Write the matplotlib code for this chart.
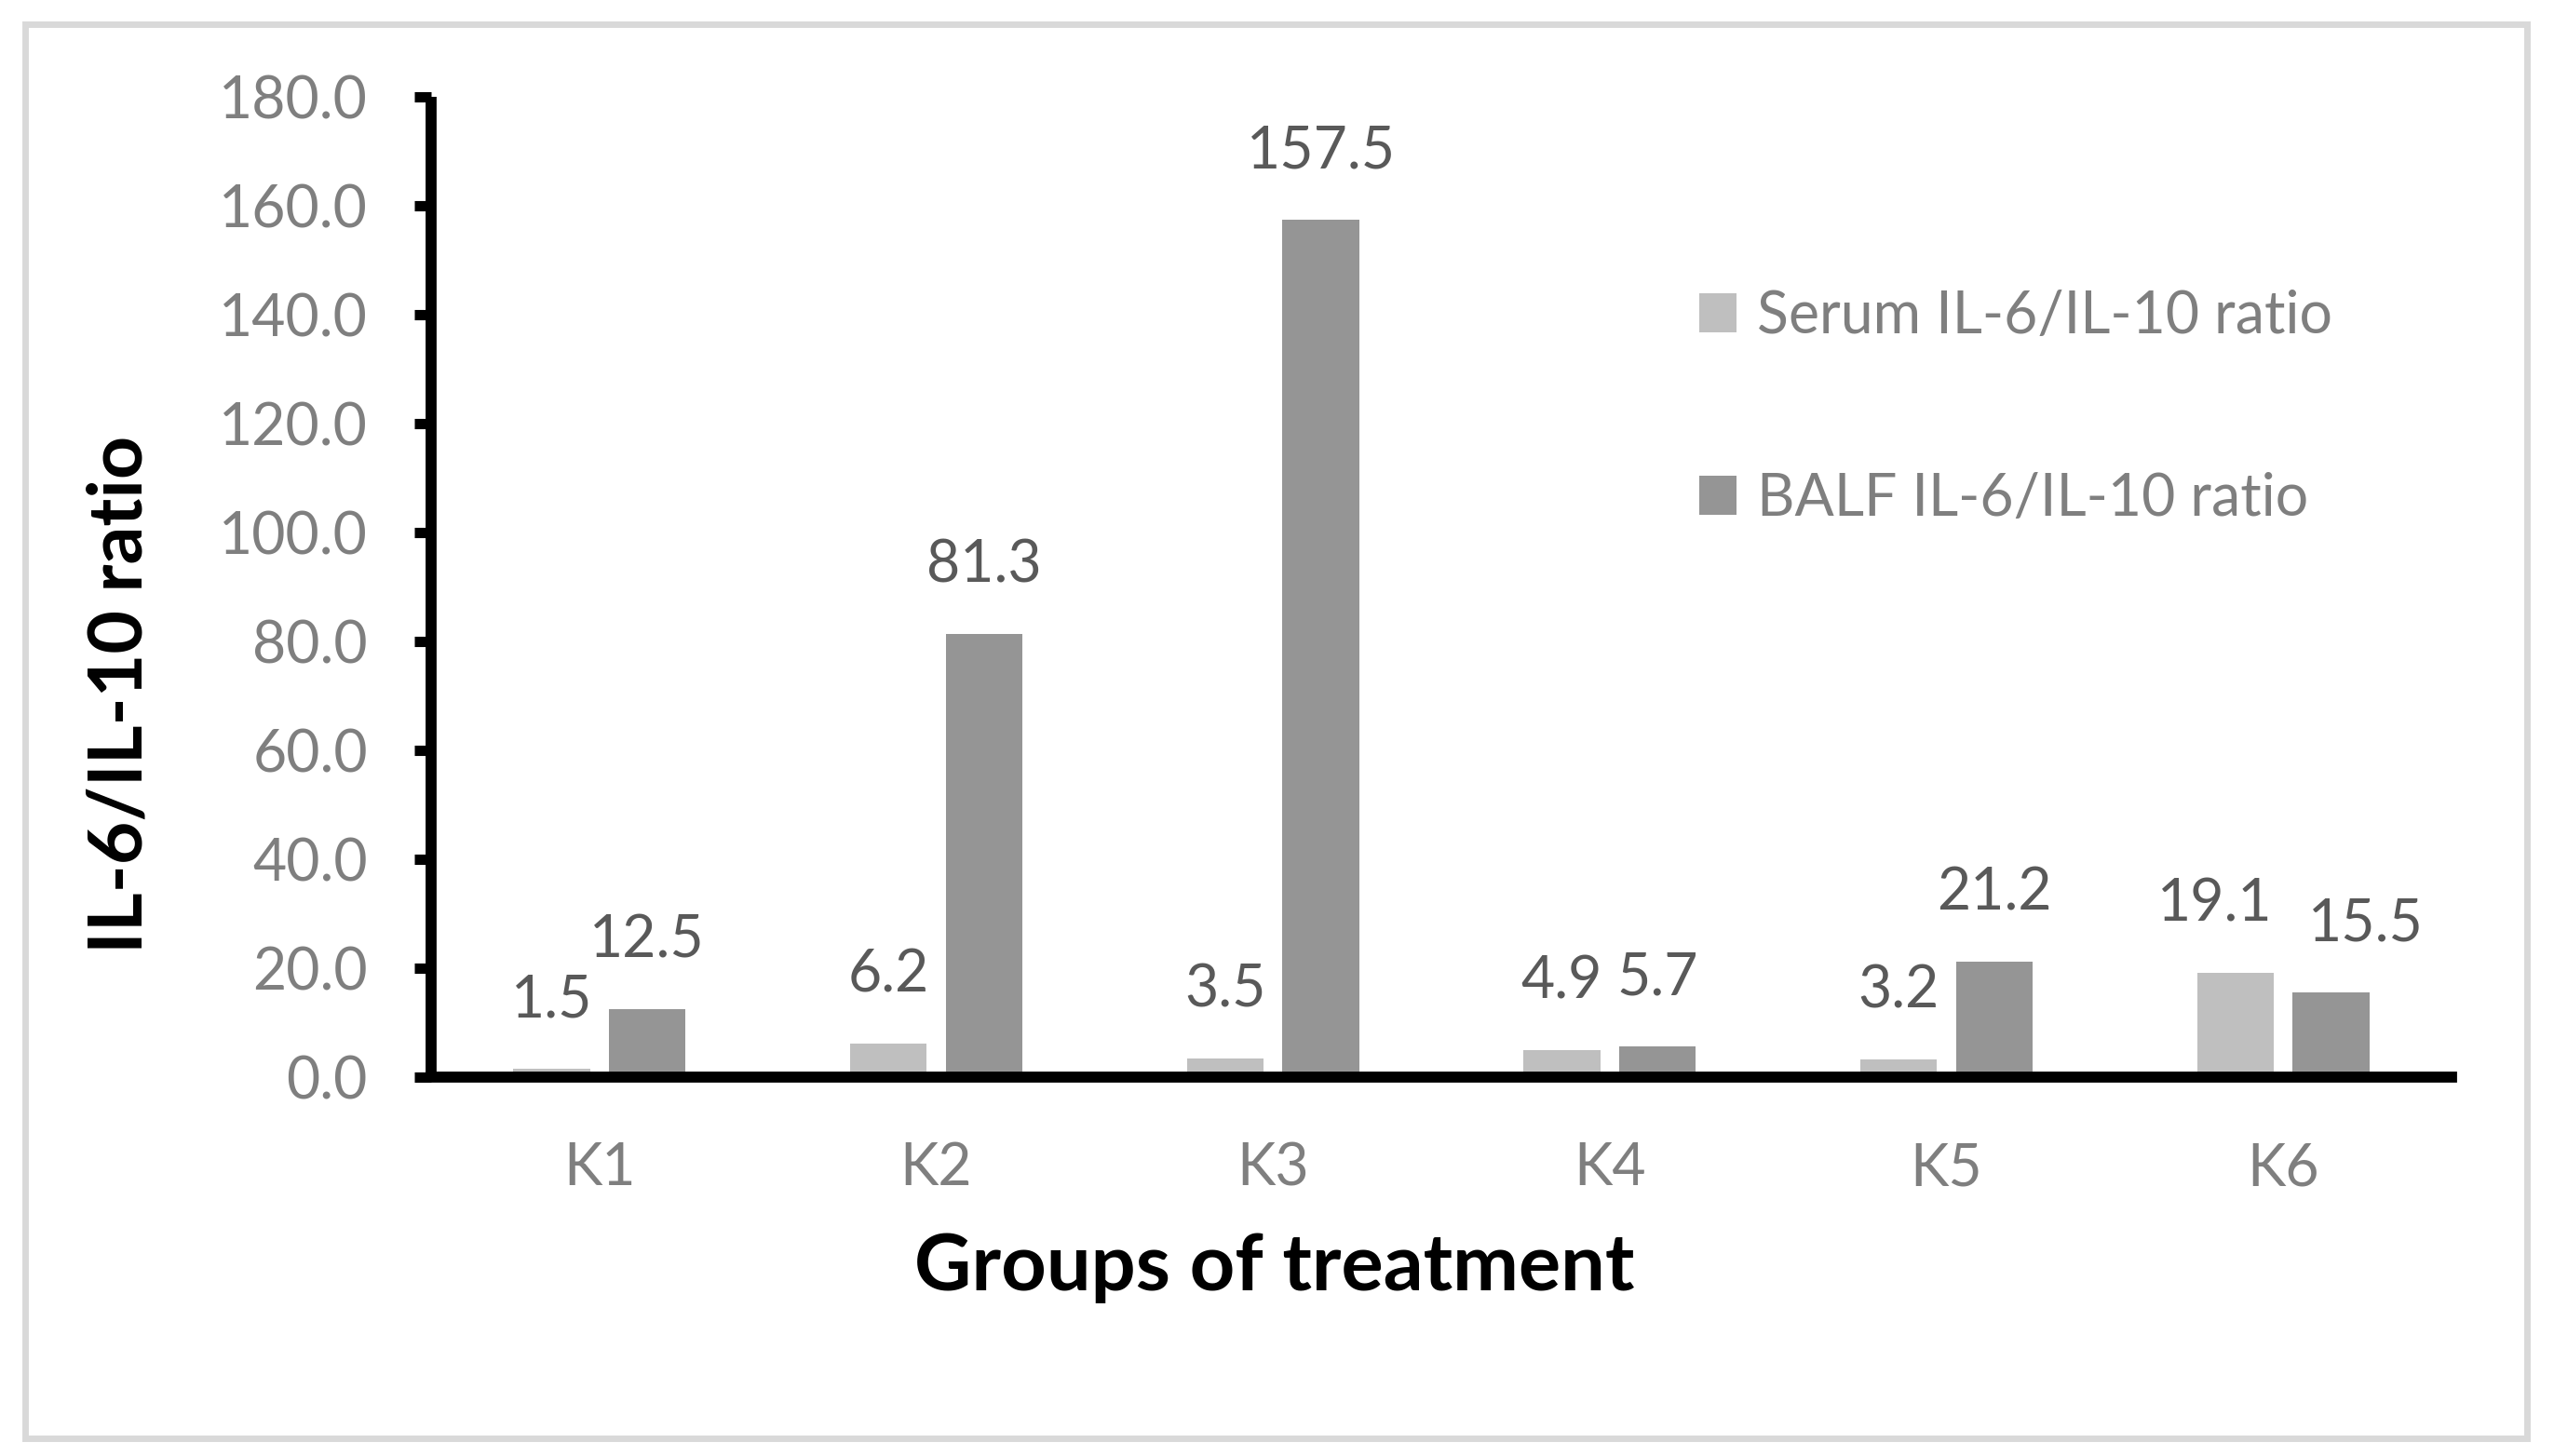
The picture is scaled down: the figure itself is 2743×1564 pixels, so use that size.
import matplotlib
matplotlib.use("Agg")
import matplotlib.pyplot as plt
import numpy as np
from matplotlib.patches import Rectangle

plt.rcParams['font.family'] = ['Lato', 'DejaVu Sans']

groups = ['K1', 'K2', 'K3', 'K4', 'K5', 'K6']
serum = [1.5, 6.2, 3.5, 4.9, 3.2, 19.1]
balf = [12.5, 81.3, 157.5, 5.7, 21.2, 15.5]
series_names = ['Serum IL-6/IL-10 ratio', 'BALF IL-6/IL-10 ratio']
yticks = np.arange(0, 181, 20)

fig = plt.figure(figsize=(27.43, 15.64), dpi=100)
ax = fig.add_axes([0.1688, 0.2602, 0.9599 - 0.1688, 0.9335 - 0.2602])

x = np.arange(len(groups))
w = 0.227
off = 0.142
b1 = ax.bar(x - off, serum, w, color='#bfbfbf', label=series_names[0])
b2 = ax.bar(x + off, balf, w, color='#959595', label=series_names[1])

# labels in K6 were pushed apart in the original so they don't collide
nudge = {(0, 5): -16, (1, 5): 27}
for si, (bars, vals) in enumerate([(b1, serum), (b2, balf)]):
    for gi, (rect, v) in enumerate(zip(bars, vals)):
        ax.annotate('%.1f' % v, (rect.get_x() + rect.get_width() / 2, v),
                    xytext=(nudge.get((si, gi), 0), 40), textcoords='offset points',
                    ha='center', va='baseline', fontsize=45, color='#595959')

ax.set_xlim(-0.5, 5.5)
ax.set_ylim(0, 180)
ax.set_yticks(yticks)
ax.set_yticklabels(['%.1f' % t for t in yticks])
ax.set_xticks(x)
ax.set_xticklabels(groups)

for s in ['top', 'right']:
    ax.spines[s].set_visible(False)
ax.spines['left'].set_linewidth(8.5)
ax.spines['bottom'].set_linewidth(8.5)
ax.spines['left'].set_capstyle('butt')
ax.tick_params(axis='y', length=13, width=8, pad=36, labelsize=45, labelcolor='#7f7f7f')
ax.tick_params(axis='x', length=0, pad=50, labelsize=45, labelcolor='#7f7f7f')

ax.text(0.4175, -0.194, 'Groups of treatment', transform=ax.transAxes,
        ha='center', va='center', fontsize=61, fontweight='bold')
ax.text(-0.1535, 0.39, 'IL-6/IL-10 ratio', transform=ax.transAxes, rotation=90,
        ha='center', va='center', fontsize=58, fontweight='bold')

ax.legend(loc='upper left', bbox_to_anchor=(0.616, 0.827), frameon=False,
          fontsize=45, labelcolor='#7f7f7f', handlelength=0.65, handleheight=0.65,
          handletextpad=0.35, labelspacing=2.2, borderaxespad=0)

fig.patches.append(Rectangle((0.0098, 0.0121), 0.9894 - 0.0098, 0.9834 - 0.0121,
                             transform=fig.transFigure, fill=False,
                             edgecolor='#d9d9d9', linewidth=5))

fig.savefig('out.png', dpi=100)
